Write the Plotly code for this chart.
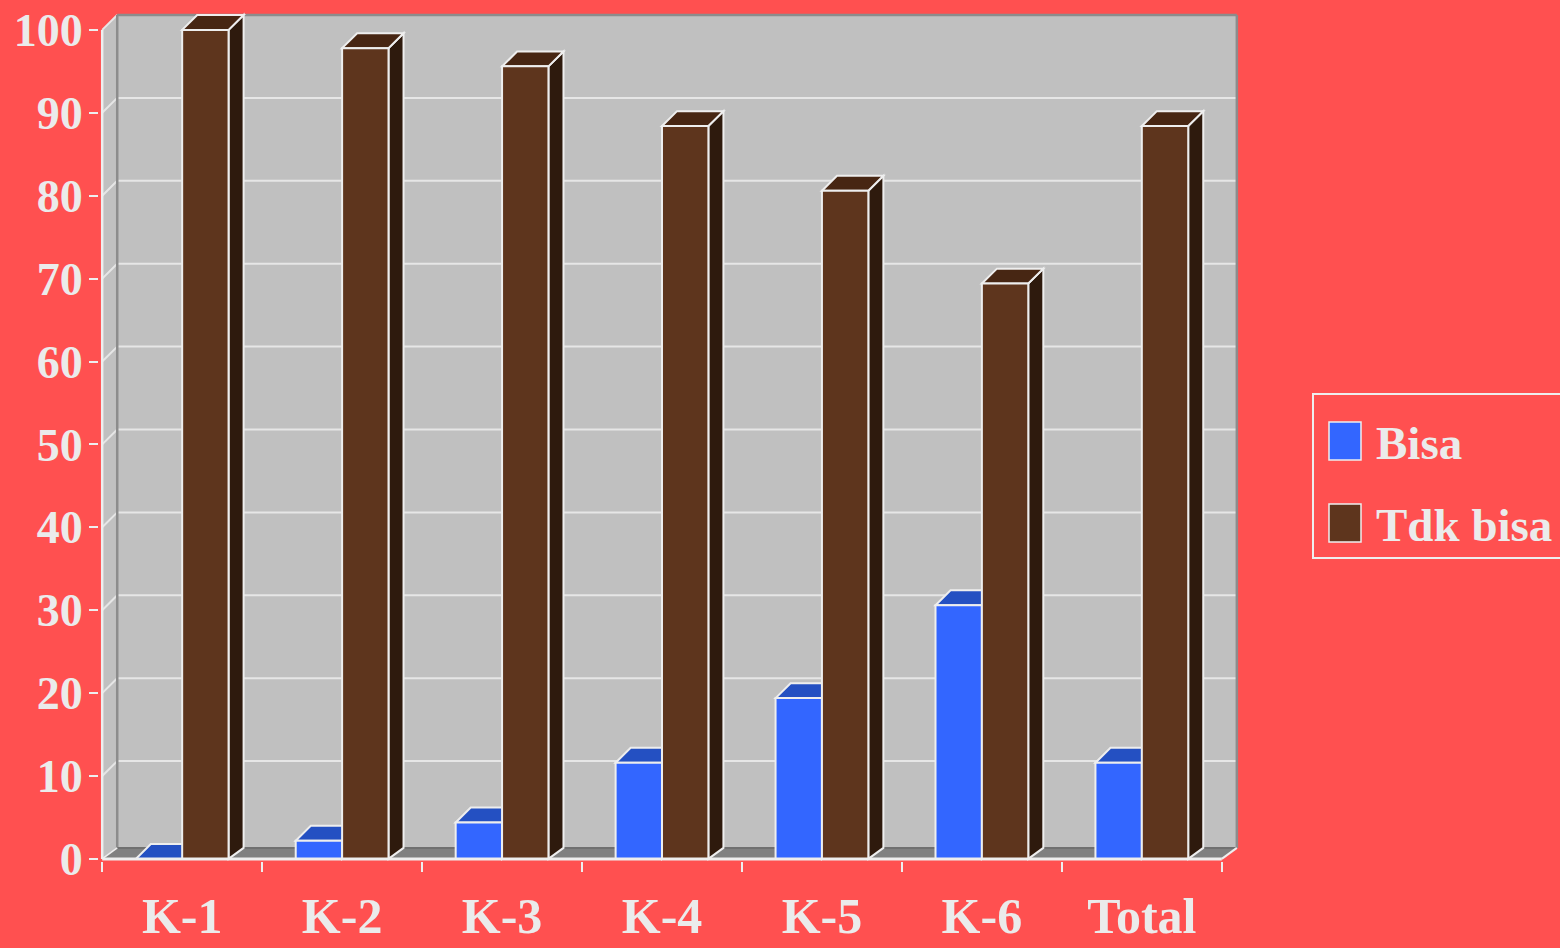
import plotly.graph_objects as go

# ---- data -------------------------------------------------------------
categories = ["K-1", "K-2", "K-3", "K-4", "K-5", "K-6", "Total"]
bisa = [0, 2.2, 4.4, 11.6, 19.4, 30.6, 11.6]
tdk_bisa = [100, 97.8, 95.6, 88.4, 80.6, 69.4, 88.4]
y_ticks = list(range(0, 101, 10))
series_names = ["Bisa", "Tdk bisa"]

# ---- styling ----------------------------------------------------------
RED = "#FF5050"
TEXT = "#EBEBEB"
EDGE = "#EEEEEE"
WALL = "#C0C0C0"
WALL_EDGE = "#8C8C8C"
FLOOR = "#808080"
GRID = "#E6E6E6"
FRONT = {"Bisa": "#3366FF", "Tdk bisa": "#5E351D"}
TOP = {"Bisa": "#2450C2", "Tdk bisa": "#472613"}
SIDE = {"Bisa": "#1C3C96", "Tdk bisa": "#2E1A0D"}
FONT = dict(family="Liberation Serif, Times New Roman, serif", size=50,
            color=TEXT, weight="bold")
Y_FONT = dict(FONT, size=46)
LEGEND_FONT = dict(FONT, size=47)

BAR_W = 0.29      # bar width in category units
DX = 0.094        # depth shift along x
DY = 1.8          # depth shift along y (bar tops / back wall)
FLOOR_DY = 1.33   # depth of the floor slab
X_RANGE = [-0.52, 6.62]
Y_RANGE = [-0.25, 102.4]

W, H = 1560, 948
M = dict(l=99, r=319, t=10, b=87)

xs = list(range(len(categories)))
x_lo, x_hi = -0.5, len(categories) - 0.5

fig = go.Figure()
for name, vals, off in [("Bisa", bisa, -BAR_W), ("Tdk bisa", tdk_bisa, 0.0)]:
    fig.add_trace(go.Bar(
        x=xs, y=vals, name=name, width=BAR_W, offset=off,
        marker=dict(color=FRONT[name], line=dict(color=EDGE, width=2)),
        showlegend=False,
    ))

shapes = []


def poly(points, fill, line_color=None, width=0, layer="below"):
    path = "M " + " L ".join(f"{x},{y}" for x, y in points) + " Z"
    shapes.append(dict(type="path", path=path, fillcolor=fill, layer=layer,
                       line=dict(color=line_color or fill, width=width)))


def seg(x0, y0, x1, y1, color, width, layer="below"):
    shapes.append(dict(type="line", x0=x0, y0=y0, x1=x1, y1=y1, layer=layer,
                       line=dict(color=color, width=width)))


# back wall and left side wall
poly([(x_lo + DX, FLOOR_DY), (x_hi + DX, FLOOR_DY),
      (x_hi + DX, 100 + DY), (x_lo + DX, 100 + DY)], WALL)
poly([(x_lo, 0), (x_lo + DX, FLOOR_DY), (x_lo + DX, 100 + DY), (x_lo, 100)], WALL)

# gridlines on the walls
for v in y_ticks[1:]:
    if v < 100:
        seg(x_lo + DX, v + DY, x_hi + DX, v + DY, GRID, 2)
    seg(x_lo, v, x_lo + DX, v + DY, GRID, 2)

# wall borders
seg(x_lo + DX, FLOOR_DY, x_lo + DX, 100 + DY, WALL_EDGE, 2.5)
seg(x_lo + DX, 100 + DY, x_hi + DX, 100 + DY, WALL_EDGE, 2.5)
seg(x_hi + DX, FLOOR_DY, x_hi + DX, 100 + DY, WALL_EDGE, 2.5)

# floor
poly([(x_lo, 0), (x_hi, 0), (x_hi + DX, FLOOR_DY), (x_lo + DX, FLOOR_DY)], FLOOR)
seg(x_lo + DX, FLOOR_DY, x_hi + DX, FLOOR_DY, "#707070", 2)
seg(x_hi, 0, x_hi + DX, FLOOR_DY, EDGE, 2)
seg(x_lo, 0, x_lo + DX, FLOOR_DY, EDGE, 1.5)

# top and side faces of every bar
for name, vals, off in [("Bisa", bisa, -BAR_W), ("Tdk bisa", tdk_bisa, 0.0)]:
    for x, v in zip(xs, vals):
        l, r = x + off, x + off + BAR_W
        poly([(r, 0), (r + DX, FLOOR_DY), (r + DX, v + DY), (r, v)],
             SIDE[name], EDGE, 2)
        poly([(l, v), (l + DX, v + DY), (r + DX, v + DY), (r, v)],
             TOP[name], EDGE, 2)

# front axis lines
seg(x_lo, 0, x_lo, 100, EDGE, 2.5, layer="above")
seg(x_lo, 0, x_hi, 0, EDGE, 3, layer="above")

# ---- legend box (drawn in paper coordinates) --------------------------
plot_w = W - M["l"] - M["r"]
plot_h = H - M["t"] - M["b"]


def px_x(p):
    return (p - M["l"]) / plot_w


def px_y(p):
    return (H - M["b"] - p) / plot_h


shapes.append(dict(type="rect", xref="paper", yref="paper",
                   x0=px_x(1313), x1=px_x(1590), y0=px_y(558), y1=px_y(394),
                   line=dict(color=EDGE, width=2), fillcolor="rgba(0,0,0,0)",
                   layer="above"))
annotations = []
for i, name in enumerate(series_names):
    top = 422 + i * 82
    shapes.append(dict(type="rect", xref="paper", yref="paper",
                       x0=px_x(1329), x1=px_x(1361), y0=px_y(top + 38), y1=px_y(top),
                       fillcolor=FRONT[name], line=dict(color=EDGE, width=1.5),
                       layer="above"))
    annotations.append(dict(xref="paper", yref="paper", x=px_x(1374),
                            y=px_y(top + 21), xanchor="left", yanchor="middle",
                            text=name, showarrow=False, font=LEGEND_FONT))

fig.update_layout(
    width=W, height=H, margin=dict(M, autoexpand=False),
    paper_bgcolor=RED, plot_bgcolor=RED,
    barmode="overlay", showlegend=False,
    shapes=shapes, annotations=annotations,
    xaxis=dict(range=X_RANGE, tickvals=[x - 0.5 for x in xs] + [x_hi],
               showticklabels=False, ticks="outside", ticklen=10, tickwidth=2,
               tickcolor=EDGE, showgrid=False, zeroline=False, showline=False,
               fixedrange=True, automargin=False),
    xaxis2=dict(range=X_RANGE, overlaying="x", side="bottom", anchor="y",
                tickvals=xs, ticktext=categories, ticks="", tickfont=FONT,
                ticklabelstandoff=21, showgrid=False, zeroline=False,
                showline=False, fixedrange=True, automargin=False),
    yaxis=dict(range=Y_RANGE, tickvals=y_ticks, ticks="outside", ticklen=9,
               tickwidth=2, tickcolor=EDGE, tickfont=Y_FONT, ticklabelstandoff=-3,
               showgrid=False, zeroline=False, showline=False, fixedrange=True,
               automargin=False),
)
fig.add_trace(go.Scatter(x=[], y=[], xaxis="x2", yaxis="y", showlegend=False))

fig.write_html("out.html")
